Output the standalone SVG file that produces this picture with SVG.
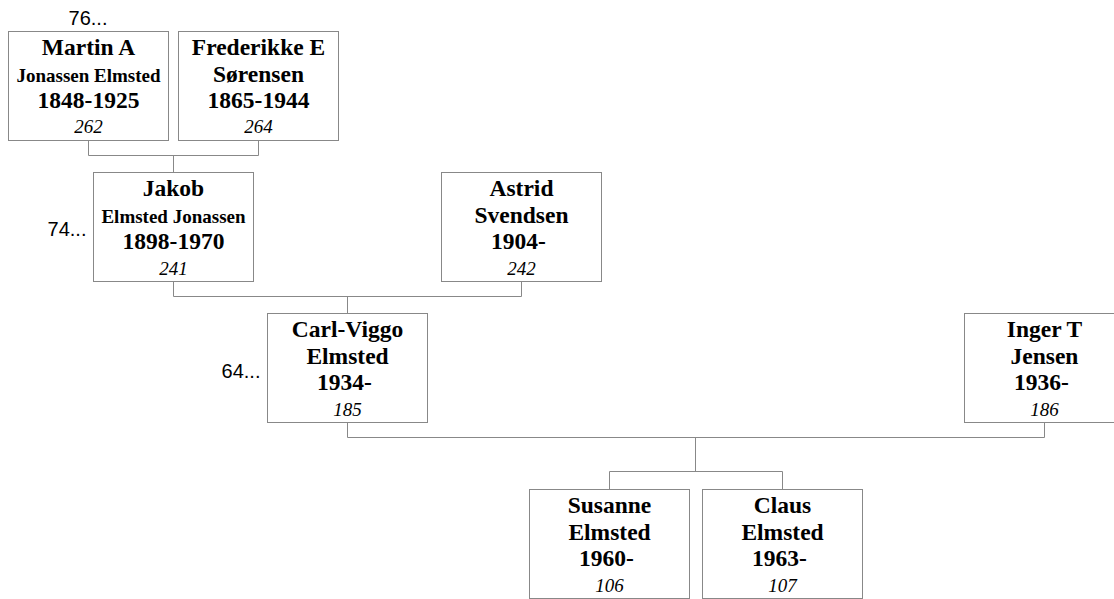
<svg xmlns="http://www.w3.org/2000/svg" width="1114" height="599" viewBox="0 0 1114 599">
<style>
rect.box{fill:#fff;stroke:#888;stroke-width:1}
.c{fill:none;stroke:#888;stroke-width:1}
text{font-family:"Liberation Serif","Times New Roman",serif;fill:#000;text-anchor:middle}
.n{font-size:23.5px;font-weight:bold}
.s{font-size:19px;font-weight:bold}
.i{font-size:19px;font-style:italic}
.g{font-family:"Liberation Sans",Arial,sans-serif;font-size:20px}
</style>
<rect width="1114" height="599" fill="#fff"/>
<g id="connectors">
<path class="c" d="M88.5 140.5V155.5H258.5V140.5M173.5 155.5V172.5"/>
<path class="c" d="M173.5 281.5V296.5H521.5V281.5M347.5 296.5V313.5"/>
<path class="c" d="M347.5 422.5V437.5H1044.5V422.5M695.5 437.5V471.5M609.5 489.5V471.5H782.5V489.5"/>
</g>
<g id="martin">
<rect class="box" x="8.5" y="31.5" width="160" height="109"/>
<text class="g" x="88" y="25">76...</text>
<text class="n" x="88.5" y="55">Martin A</text>
<text class="s" x="88.5" y="82">Jonassen Elmsted</text>
<text class="n" x="88.5" y="108">1848-1925</text>
<text class="i" x="88.5" y="133">262</text>
</g>
<g id="frederikke">
<rect class="box" x="178.5" y="31.5" width="160" height="109"/>
<text class="n" x="258.5" y="55">Frederikke E</text>
<text class="n" x="258.5" y="82">Sørensen</text>
<text class="n" x="258.5" y="108">1865-1944</text>
<text class="i" x="258.5" y="133">264</text>
</g>
<g id="jakob">
<rect class="box" x="93.5" y="172.5" width="160" height="109"/>
<text class="g" x="67" y="236">74...</text>
<text class="n" x="173.5" y="196">Jakob</text>
<text class="s" x="173.5" y="223">Elmsted Jonassen</text>
<text class="n" x="173.5" y="249">1898-1970</text>
<text class="i" x="173.5" y="275">241</text>
</g>
<g id="astrid">
<rect class="box" x="441.5" y="172.5" width="160" height="109"/>
<text class="n" x="521.5" y="196">Astrid</text>
<text class="n" x="521.5" y="223">Svendsen</text>
<text class="n" x="518.5" y="249">1904-</text>
<text class="i" x="521.5" y="275">242</text>
</g>
<g id="carlviggo">
<rect class="box" x="267.5" y="313.5" width="160" height="109"/>
<text class="g" x="241" y="378">64...</text>
<text class="n" x="347.5" y="337">Carl-Viggo</text>
<text class="n" x="347.5" y="364">Elmsted</text>
<text class="n" x="344.5" y="390">1934-</text>
<text class="i" x="347.5" y="416">185</text>
</g>
<g id="inger">
<rect class="box" x="964.5" y="313.5" width="160" height="109"/>
<text class="n" x="1044.5" y="337">Inger T</text>
<text class="n" x="1044.5" y="364">Jensen</text>
<text class="n" x="1041.5" y="390">1936-</text>
<text class="i" x="1044.5" y="416">186</text>
</g>
<g id="susanne">
<rect class="box" x="529.5" y="489.5" width="160" height="109"/>
<text class="n" x="609.5" y="513">Susanne</text>
<text class="n" x="609.5" y="540">Elmsted</text>
<text class="n" x="606.5" y="566">1960-</text>
<text class="i" x="609.5" y="592">106</text>
</g>
<g id="claus">
<rect class="box" x="702.5" y="489.5" width="160" height="109"/>
<text class="n" x="782.5" y="513">Claus</text>
<text class="n" x="782.5" y="540">Elmsted</text>
<text class="n" x="779.5" y="566">1963-</text>
<text class="i" x="782.5" y="592">107</text>
</g>
</svg>
